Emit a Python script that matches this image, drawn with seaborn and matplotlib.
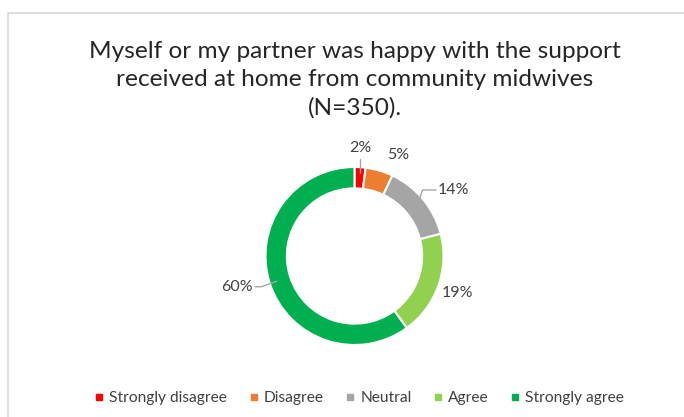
import matplotlib
matplotlib.use("Agg")
import matplotlib.pyplot as plt
import matplotlib.patches as mpatches
from matplotlib.lines import Line2D
import numpy as np
import seaborn as sns

categories = ["Strongly disagree", "Disagree", "Neutral", "Agree", "Strongly agree"]
values = [2, 5, 14, 19, 60]
colors = ["#FF0000", "#ED7D31", "#A5A5A5", "#92D050", "#00B050"]
title = "Myself or my partner was happy with the support\nreceived at home from community midwives\n(N=350)."

sns.set_theme(style="white")
plt.rcParams["font.family"] = ["Lato", "DejaVu Sans"]

W, H = 684, 417
fig = plt.figure(figsize=(W / 100, H / 100), dpi=100)
fig.patch.set_facecolor("white")

# chart frame (left and top edges visible)
fig.add_artist(mpatches.Rectangle((8 / W, -0.1), 1.2, (H - 13) / H + 0.1,
                                  transform=fig.transFigure, fill=False,
                                  edgecolor="#D9D9D9", linewidth=1.2))

cx, cy, R = 354.5, 161, 89
span = 1.5
side = 2 * span * R
ax = fig.add_axes([(cx - side / 2) / W, (cy - side / 2) / H, side / W, side / H])

wedges, _ = ax.pie(values, colors=colors, startangle=90, counterclock=False,
                   radius=1.0, wedgeprops=dict(width=0.24, edgecolor="white", linewidth=1.5))
ax.set_xlim(-span, span)
ax.set_ylim(-span, span)
ax.set_aspect("equal")
ax.axis("off")

# label placement: (radius, angle shift in degrees, leader horizontal length)
label_style = [(1.215, 0.7, -1), (1.236, -7.1, 0), (1.34, -6, 0.15), (1.235, 0, 0), (1.36, -3.3, 0.07)]
for w, v, (r, shift, hlen) in zip(wedges, values, label_style):
    mid = np.deg2rad((w.theta1 + w.theta2) / 2)
    a = mid + np.deg2rad(shift)
    tx, ty = r * np.cos(a), r * np.sin(a)
    ax.text(tx, ty, f"{v}%", ha="center", va="center", fontsize=11.5, color="#404040")
    if hlen < 0:
        px, py = 0.93 * np.cos(mid), 0.93 * np.sin(mid)
        ax.plot([px, px], [py, ty - 0.12], color="#A6A6A6", lw=1)
    elif hlen > 0:
        px, py = 0.92 * np.cos(mid), 0.92 * np.sin(mid)
        sx = np.sign(np.cos(mid))
        ex = tx - sx * 0.2
        bx = ex - sx * hlen
        ax.plot([px, bx, ex], [py, ty, ty], color="#A6A6A6", lw=1)

fig.text(355 / W, (H - 80) / H, title, ha="center", va="center", fontsize=17.6,
         color="#262626", linespacing=1.42)

handles = [Line2D([0], [0], marker="s", linestyle="none", markersize=5,
                  markerfacecolor=c, markeredgecolor=c) for c in colors]
fig.legend(handles, categories, loc="center", bbox_to_anchor=(359.5 / W, 19 / H), ncol=5,
           frameon=False, fontsize=11.2, handletextpad=0.34, columnspacing=1.41,
           labelcolor="#404040", handlelength=0.6)

fig.savefig("out.png", dpi=100)
